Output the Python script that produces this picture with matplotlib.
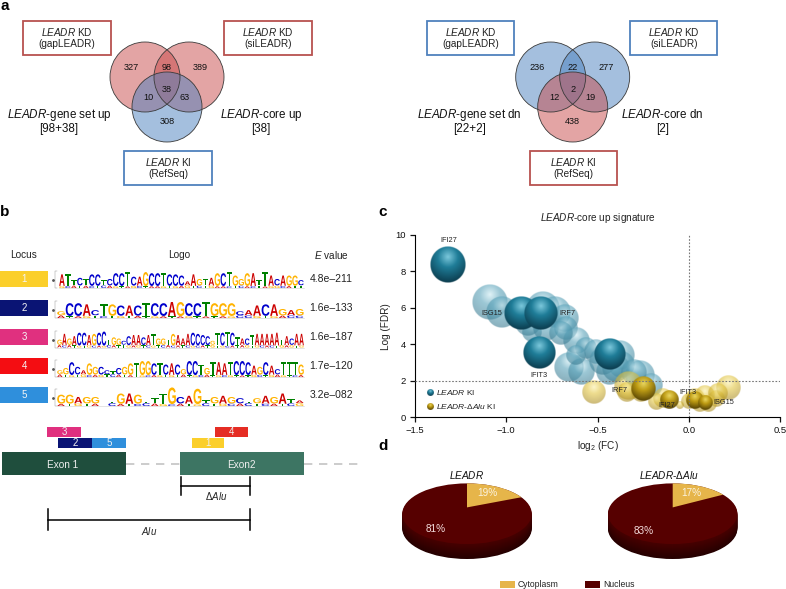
import matplotlib
matplotlib.use('Agg')
import matplotlib.pyplot as plt
import numpy as np
from matplotlib.colors import to_rgb, to_rgba
from matplotlib.font_manager import FontProperties
from matplotlib.patches import Circle, Ellipse, Rectangle
from matplotlib.text import Text
from matplotlib.textpath import TextPath
from matplotlib.transforms import Affine2D, Bbox

plt.rcParams['font.family'] = ['Liberation Sans', 'DejaVu Sans']
plt.rcParams['mathtext.fontset'] = 'custom'
plt.rcParams['mathtext.rm'] = 'Liberation Sans'
plt.rcParams['mathtext.it'] = 'Liberation Sans:italic'
plt.rcParams['mathtext.bf'] = 'Liberation Sans:bold'

L = r'$\mathit{LEADR}$'

# panel a
venn_up = [327, 98, 389, 38, 10, 63, 308]
venn_dn = [236, 22, 277, 2, 12, 19, 438]
up_labels = [L + '-gene set up', '[98+38]', L + '-core up', '[38]']
dn_labels = [L + '-gene set dn', '[22+2]', L + '-core dn', '[2]']
box_names = [L + ' KD\n(gapLEADR)', L + ' KD\n(siLEADR)', L + ' KI\n(RefSeq)']

# panel b
loci = ['1', '2', '3', '4', '5']
locus_colors = ['#fbcf2b', '#0a1474', '#e0307f', '#f40d12', '#2f8fdc']
e_values = ['4.8e\u2013211', '1.6e\u2013133', '1.6e\u2013187', '1.7e\u2013120', '3.2e\u2013082']
logo_letters = [
    'ATTCTCCTCCCTCAGCCTCCCAAGTAGCTGGGATTACAGGC',
    'GCCACTGCACTCCAGCCTGGGCAACAGAG',
    'GAGACCAGCCTGGCCAACATGGTGAAACCCCGTCTCTACTAAAAATACAA',
    'GGCCAGGCCTCGGTGGCTCACGCCTGTAATCCCAGCACTTTG',
    'GGAGG TGAGTTTGCAGTGAGCTGAGATA',
]
logo_heights = [
    [9, 9, 4, 6, 5, 9, 9, 4, 5, 10, 10, 11, 7, 7, 11, 10, 10, 10, 9, 9, 8, 3, 9, 5, 5,
     6, 10, 10, 11, 8, 5, 10, 10, 4, 11, 8, 5, 8, 8, 8, 4],
    [3, 10, 10, 9, 4, 9, 9, 8, 8, 8, 10, 10, 10, 11, 11, 10, 10, 11, 10, 10, 10, 3, 4,
     8, 9, 9, 5, 4, 5],
    [4, 9, 5, 7, 10, 10, 8, 9, 10, 11, 4, 6, 5, 3, 7, 8, 8, 6, 8, 9, 5, 5, 4, 9, 8, 5,
     9, 10, 9, 8, 7, 3, 10, 10, 11, 10, 6, 5, 5, 8, 9, 9, 9, 9, 10, 4, 7, 5, 9, 9],
    [3, 5, 10, 6, 3, 9, 6, 6, 3, 2, 5, 6, 9, 9, 11, 11, 9, 9, 8, 9, 8, 4, 11, 11, 8, 5,
     10, 10, 9, 10, 11, 11, 10, 7, 6, 10, 7, 4, 10, 10, 10, 8],
    [7, 7, 5, 5, 5, 0, 1, 8, 8, 7, 1, 4, 8, 13, 5, 6, 12, 2, 5, 6, 5, 4, 1, 4, 6, 5, 8,
     3, 2],
]
logo_second = [
    'GCATACTCAGTAGCTAAGTGAGTCTGAACTCACTAGGCATT',
    'ATAGTCTGTATGATAGTATAGCCGTGACC',
    'ACATGTGCAGCATTGAGTCGTCACATCGCATGTGCATAGTGCACTGAGTG',
    'ATGTGCAGTCATATGCAGTGTATGCATGCGTATGCTGAGTCATGCA',
    'ATGTA CATCCAGCATGCTGCACTCATCGT',
]
site_labels = ['3', '2', '5', '1', '4']
site_colors = ['#e0307f', '#0a1474', '#2f8fdc', '#fbcf2b', '#e52d24']
site_starts = [47, 58, 92, 192, 215]
site_ends = [81, 92, 126, 224, 248]
site_rows = [427, 438, 438, 438, 427]

# panel c
lead_solid_x = [-1.319, -0.917, -0.811, -0.816, -0.433]
lead_solid_y = [8.37, 5.74, 5.74, 3.56, 3.49]
lead_solid_r = [18, 17, 17, 16.5, 16]
lead_light_x = [-1.09, -1.026, -0.80, -0.734, -0.68, -0.67, -0.615, -0.564, -0.86, -0.656,
                -0.588, -0.506, -0.378, -0.369, -0.433, -0.268, -0.205,
                -0.47, -0.40, -0.30, -0.62, -0.88, -0.78, -0.70]
lead_light_y = [6.34, 5.8, 5.98, 5.8, 5.43, 4.88, 4.24, 3.78, 4.7, 2.78, 2.5, 3.6, 3.42,
                2.87, 2.5, 2.32, 1.77, 3.1, 2.7, 2.5, 3.4, 5.2, 4.9, 4.6]
lead_light_r = [18, 16, 17, 16, 14, 12, 13.5, 11, 10, 15, 13.5, 12, 15, 13.5, 13.5, 15, 12,
                14, 14, 13, 10, 13, 13, 12]
dalu_light_x = [-0.519, -0.332, -0.34, -0.26, -0.14, -0.177, -0.05, 0.033, 0.088, 0.152,
                0.216, 0.16, 0.106, 0.0, 0.06]
dalu_light_y = [1.41, 1.77, 1.41, 1.41, 1.04, 0.86, 0.68, 1.04, 1.23, 1.04, 1.63, 1.32, 0.77,
                0.9, 0.8]
dalu_light_r = [12, 14.5, 10, 10, 10, 8.5, 4, 10, 10, 8.5, 12.5, 10, 8.5, 8, 9]
dalu_solid_x = [-0.25, -0.108, 0.033, 0.091]
dalu_solid_y = [1.59, 0.95, 0.95, 0.82]
dalu_solid_r = [12.5, 9.5, 9, 7.5]
gene_names = ['IFI27', 'ISG15', 'IRF7', 'IFIT3', 'IRF7', 'IFI27', 'IFIT3', 'ISG15']
gene_x = [-1.316, -1.078, -0.665, -0.82, -0.378, -0.12, -0.003, 0.19]
gene_y = [9.7, 5.68, 5.68, 2.29, 1.49, 0.62, 1.38, 0.8]

# panel d
pie_names = [L, L + r'-$\Delta\mathit{Alu}$']
cytoplasm_share = [19, 17]
nucleus_share = [81, 83]
legend_names = ['Cytoplasm', 'Nucleus']


class LogoLetter(Text):
    # a letter squeezed into its logo cell, mpl text can't scale x and y apart
    font = FontProperties(family='Liberation Sans', weight='bold')

    def __init__(self, x, y, s, w, h, color):
        super().__init__(x, y, s, color=color, fontsize=1)
        self.w, self.h = w, h

    def draw(self, renderer):
        if not self.get_visible():
            return
        path = TextPath((0, 0), self.get_text(), size=10, prop=self.font)
        box = path.get_extents()
        x, y = self.get_position()
        tf = (Affine2D().translate(-box.x0, -box.y0)
              .scale(self.w / box.width, -self.h / box.height)
              .translate(x, y) + self.get_transform())
        gc = renderer.new_gc()
        gc.set_linewidth(0)
        renderer.draw_path(gc, path, tf, to_rgba(self.get_color()))
        gc.restore()

    def get_window_extent(self, renderer=None, dpi=None):
        x, y = self.get_position()
        (x0, y0), (x1, y1) = self.get_transform().transform([(x, y), (x + self.w, y - self.h)])
        return Bbox.from_extents(min(x0, x1), min(y0, y1), max(x0, x1), max(y0, y1))


fig = plt.figure(figsize=(7.86, 5.89), dpi=100)
bg = fig.add_axes([0, 0, 1, 1])
bg.set_xlim(0, 786)
bg.set_ylim(589, 0)
bg.axis('off')

for s, x, y in [('a', 5, 6), ('b', 5, 212), ('c', 383, 212), ('d', 383, 446)]:
    bg.text(x, y, s, fontsize=11, fontweight='bold', ha='center', va='center')


def draw_venn(cx, counts, labels, top_color, bottom_color, edge_top, edge_bottom):
    for x, y, c in [(cx - 22, 77, top_color), (cx + 22, 77, top_color), (cx, 107, bottom_color)]:
        bg.add_patch(Circle((x, y), 35, fc=to_rgba(c, 0.5), ec='none'))
    for x, y in [(cx - 22, 77), (cx + 22, 77), (cx, 107)]:
        bg.add_patch(Circle((x, y), 35, fc='none', ec='#3a3a3a', lw=0.6))
    offs = [(-36, 68), (0, 68), (33, 68), (0, 89), (-18.5, 98), (17.5, 98), (0, 121)]
    for n, (dx, y) in zip(counts, offs):
        bg.text(cx + dx, y, str(n), fontsize=6.6, ha='center', va='center', color='#111111')
    boxes = [(cx - 144, edge_top), (cx + 57, edge_top), (cx - 43, edge_bottom)]
    if cx > 400:
        boxes[0] = (cx - 146, edge_top)
    for name, (x0, ec), y0 in zip(box_names, boxes, [21, 21, 151]):
        bg.add_patch(Rectangle((x0, y0), 87.5, 33.5, fc='white', ec=ec, lw=1.3))
        a, b = name.split('\n')
        bg.text(x0 + 44, y0 + 10.5, a, fontsize=7.2, ha='center', va='center', color='#222222')
        bg.text(x0 + 44, y0 + 23, b, fontsize=7.2, ha='center', va='center', color='#222222')
    side = [-108 if cx < 400 else -103, 94 if cx < 400 else 90]
    for i, s in enumerate(labels):
        bg.text(cx + side[i // 2], 115 if i % 2 == 0 else 129, s, fontsize=8.4, ha='center',
                va='center', color='#111111')


draw_venn(167, venn_up, up_labels, '#c94a4a', '#4a80be', '#b8524f', '#4f81bd')
draw_venn(572.7, venn_dn, dn_labels, '#4a80be', '#c94a4a', '#4f81bd', '#b8524f')

# panel b
bg.text(23.5, 255, 'Locus', fontsize=7.2, ha='center', va='center', color='#222222')
bg.text(179, 255, 'Logo', fontsize=7.2, ha='center', va='center', color='#222222')
bg.text(331, 255, r'$\mathit{E}$ value', fontsize=7.2, ha='center', va='center', color='#222222')

base_colors = {'A': '#cc0000', 'C': '#0000cc', 'G': '#ffb300', 'T': '#008000'}
row_y = [279, 308, 337, 366, 395]
row_base = [288, 318, 347.5, 377, 406]
for i, lab in enumerate(loci):
    y = row_y[i]
    bg.add_patch(Rectangle((0, y - 8), 48, 16, fc=locus_colors[i], ec='none'))
    bg.text(24, y, lab, fontsize=7, color='#f4f4f4', ha='center', va='center')
    bg.text(331, y, e_values[i], fontsize=7.5, color='#222222', ha='center', va='center')

    base = row_base[i]
    x0 = 59 if i == 0 else 57
    step = (304 - x0) / len(logo_letters[i])
    bg.plot([x0, 304], [base + 0.4, base + 0.4], color='#d0d0d0', lw=0.4)
    bg.plot([57, 55, 55, 57], [base - 17, base - 17, base, base], color='#999999', lw=0.35)
    bg.plot([52.5], [base - 8], marker='o', ms=1, color='#555555')
    for j, (ch, h, low) in enumerate(zip(logo_letters[i], logo_heights[i], logo_second[i])):
        if ch == ' ':
            continue
        low_h = 1.6 + (11 - min(h, 11)) * 0.12
        x = x0 + j * step + 0.2
        bg.add_artist(LogoLetter(x, base, low, step * 0.9, low_h, base_colors[low]))
        bg.add_artist(LogoLetter(x, base - low_h - 0.3, ch, step * 0.93, h * 1.28,
                                 base_colors[ch]))

for lab, c, x0, x1, y in zip(site_labels, site_colors, site_starts, site_ends, site_rows):
    bg.add_patch(Rectangle((x0, y), x1 - x0, 9.5, fc=c, ec='none'))
    bg.text((x0 + x1) / 2, y + 5, lab, fontsize=7, color='#f0f0f0', ha='center', va='center')

bg.plot([126, 180], [464, 464], color='#c4c4c4', lw=1.2, dashes=(5, 4))
bg.plot([304, 362], [464, 464], color='#c4c4c4', lw=1.2, dashes=(5, 4))
for x0, x1, c, s in [(2, 126, '#1f4e3d', 'Exon 1'), (180, 304, '#3d7563', 'Exon2')]:
    bg.add_patch(Rectangle((x0, 452), x1 - x0, 23, fc=c, ec='none'))
    bg.text((x0 + x1) / 2 - 1, 465, s, fontsize=7.2, color='#f0f0f0', ha='center', va='center')

for x0, x1, y0, y1, lab in [(180.5, 250, 477, 495, r'$\Delta\mathit{Alu}$'),
                            (48, 250, 509, 530, r'$\mathit{Alu}$')]:
    ym = (y0 + y1) / 2
    bg.plot([x0, x0], [y0, y1], color='black', lw=1.1)
    bg.plot([x1, x1], [y0, y1], color='black', lw=1.1)
    bg.plot([x0, x1], [ym, ym], color='black', lw=1.1)
    bg.text((x0 + x1) / 2 + (1 if x0 > 100 else 0), y1 + 1, lab, fontsize=7, ha='center', va='center',
            color='#222222')


# panel c
def sphere_image(base, light, dark, alpha, n=96):
    v, u = np.mgrid[1:-1:n * 1j, -1:1:n * 1j]
    d = np.hypot(u, v)
    t = np.clip(np.hypot(u, v - 0.42) / 1.42, 0, 1)
    img = np.zeros((n, n, 4))
    base, light, dark = map(np.array, (to_rgb(base), to_rgb(light), to_rgb(dark)))
    for k in range(3):
        img[..., k] = np.where(t < 0.4, light[k] + (base[k] - light[k]) * t / 0.4,
                               base[k] + (dark[k] - base[k]) * (t - 0.4) / 0.6)
    img[..., 3] = np.clip((1 - d) * n / 3, 0, 1) * alpha
    return img


def bubbles(ax, xs, ys, rs, base, light, dark, alpha, zorder):
    px_x = 365 / 2.0
    px_y = 182.3 / 10
    img = sphere_image(base, light, dark, alpha)
    for x, y, r in zip(xs, ys, rs):
        ax.imshow(img, extent=(x - r / px_x, x + r / px_x, y - r / px_y, y + r / px_y),
                  aspect='auto', zorder=zorder, interpolation='bilinear')


ax = fig.add_axes([415 / 786, 1 - 417.3 / 589, 365 / 786, 182.3 / 589])
ax.patch.set_alpha(0)
blue = ('#1f7d98', '#7cc8dc', '#0b3b4d')
yellow = ('#bd9a10', '#ecd860', '#4f3d00')
bubbles(ax, lead_light_x, lead_light_y, lead_light_r, '#5aa3ba', '#cbeaf2', '#3a7a90', 0.6, 2)
bubbles(ax, lead_solid_x, lead_solid_y, lead_solid_r, *blue, 1.0, 3)
bubbles(ax, dalu_light_x, dalu_light_y, dalu_light_r, '#e2c542', '#fbf0a8', '#a88a20', 0.6, 4)
bubbles(ax, dalu_solid_x, dalu_solid_y, dalu_solid_r, *yellow, 0.95, 5)
ax.axhline(2, color='#777777', lw=0.8, ls=(0, (1.5, 1.5)), zorder=6)
ax.axvline(0, color='#777777', lw=0.8, ls=(0, (1.5, 1.5)), zorder=6)
ax.set_xlim(-1.5, 0.5)
ax.set_ylim(0, 10)
ax.set_xticks([-1.5, -1.0, -0.5, 0.0, 0.5])
ax.set_yticks([0, 2, 4, 6, 8, 10])
ax.tick_params(labelsize=6.8, length=3.5, width=0.9, pad=3, colors='#111111')
ax.spines['top'].set_visible(False)
ax.spines['right'].set_visible(False)
ax.set_xlabel(r'log$_2$ (FC)', fontsize=7.2, labelpad=3, color='#222222')
ax.set_ylabel('Log (FDR)', fontsize=7.2, labelpad=3, color='#222222')
ax.set_title(L + '-core up signature', fontsize=7.2, pad=10, color='#222222')
for s, x, y in zip(gene_names, gene_x, gene_y):
    ax.text(x, y, s, fontsize=5.3, ha='center', va='center', color='#222222', zorder=7)
bubbles(ax, [-1.414], [1.37], [3.2], *blue, 1.0, 7)
bubbles(ax, [-1.414], [0.585], [3.2], *yellow, 1.0, 7)
ax.text(-1.385, 1.37, L + ' KI', fontsize=6, va='center', color='#222222')
ax.text(-1.385, 0.585, L + r'-$\Delta\mathit{Alu}$ KI', fontsize=6, va='center', color='#222222')

# panel d
pie_cx = [467, 672.7]
pie_cy = 513.7
pie_rx = 64.7
pie_ry = 30.3
yellow_c = '#e6b54a'
red_c = '#560000'
name_x = [467, 669]
cyto_x = [487, 691.7]
nuc_x = [435.7, 644]
nuc_y = [529, 531]
for i, (cx, name, cyto, nuc) in enumerate(zip(pie_cx, pie_names, cytoplasm_share, nucleus_share)):
    for k in range(15, 0, -1):
        shade = 0.11 + 0.13 * (1 - k / 15)
        bg.add_patch(Ellipse((cx, pie_cy + k), 2 * pie_rx, 2 * pie_ry,
                             fc=(shade + 0.04, 0.0, 0.0), ec='none'))
    bg.add_patch(Ellipse((cx, pie_cy), 2 * pie_rx, 2 * pie_ry, fc=red_c, ec='none'))
    tip = pie_cy - 6.3
    end = np.radians(cyto * 3.6 * 0.835)
    a = np.linspace(0, end, 40)
    bg.fill(np.r_[cx, cx + pie_rx * np.sin(a)], np.r_[tip, pie_cy - pie_ry * np.cos(a)],
            color=yellow_c, lw=0)
    bg.text(name_x[i], 475, name, fontsize=7.2, ha='center', va='center', color='#111111')
    bg.text(cyto_x[i], 493, f'{cyto}%', fontsize=7.2, color='#fbf3df', ha='center', va='center')
    bg.text(nuc_x[i], nuc_y[i], f'{nuc}%', fontsize=7.2, color='#f3dcdc', ha='center', va='center')

for x, c, s in zip([500, 585], [yellow_c, red_c], legend_names):
    bg.add_patch(Rectangle((x, 581), 15, 7, fc=c, ec='none'))
    bg.text(x + 18, 584.5, s, fontsize=6.2, va='center', color='#222222')

fig.savefig('out.png', dpi=100)
